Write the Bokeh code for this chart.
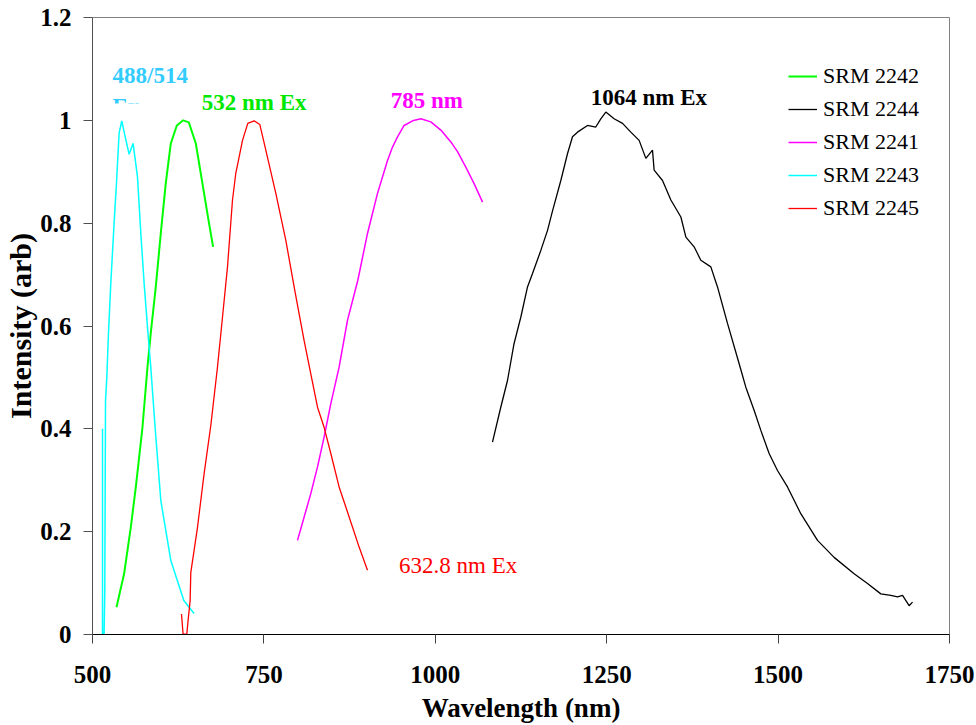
from bokeh.plotting import figure
from bokeh.models import Range1d, FixedTicker, Legend, LegendItem
from bokeh.core.properties import value
from bokeh.embed import file_html
from bokeh.resources import INLINE

SERIF = "Liberation Serif"

# ---------------- data (wavelength nm, intensity arb) ----------------
srm2243_x = [514.6, 514.6, 516.9, 517.9, 519.0, 520.9, 523.3, 526.7, 531.5, 535.0, 538.8,
             542.7, 546.5, 553.4, 559.2, 565.6, 570.5, 575.3, 580.2, 585.0, 591.3,
             599.6, 614.2, 633.2, 648.2]
srm2243_y = [0.40, 0.0, 0.0, 0.08, 0.455, 0.50, 0.586, 0.683, 0.80, 0.878, 0.975,
             0.999, 0.975, 0.934, 0.955, 0.89, 0.78, 0.683, 0.598, 0.52, 0.403,
             0.261, 0.144, 0.066, 0.041]

srm2242_x = [535.0, 546.1, 555.9, 563.2, 572.9, 580.2, 585.0, 592.3, 599.6, 606.9, 614.2,
             623.0, 632.2, 640.5, 650.7, 660.4, 669.2, 675.9]
srm2242_y = [0.053, 0.118, 0.209, 0.287, 0.403, 0.520, 0.586, 0.676, 0.780, 0.878, 0.955,
             0.990, 1.000, 0.996, 0.955, 0.877, 0.806, 0.754]

srm2245_x = [629.8, 632.1, 637.5, 639.4, 642.4, 643.4, 653.2, 662.8, 672.6, 682.3, 689.6,
             696.9, 704.2, 709.0, 718.8, 726.5, 735.7, 744.0, 752.8, 767.4, 781.9,
             795.5, 808.6, 818.4, 828.2, 837.8, 847.6, 859.7, 869.5, 879.2, 888.9, 901.1]
srm2245_y = [0.040, 0.001, 0.0, 0.027, 0.066, 0.121, 0.209, 0.313, 0.407, 0.520, 0.617,
             0.715, 0.845, 0.897, 0.961, 0.994, 0.999, 0.992, 0.942, 0.858, 0.767,
             0.666, 0.572, 0.507, 0.442, 0.403, 0.352, 0.287, 0.248, 0.209, 0.170, 0.125]

srm2241_x = [799.0, 808.6, 818.4, 828.2, 837.8, 847.6, 859.7, 871.9, 887.0, 901.1, 915.7,
             930.3, 937.6, 944.9, 954.5, 966.8, 978.9, 993.5, 1008.1, 1022.7, 1032.4,
             1044.5, 1056.6, 1068.9]
srm2241_y = [0.183, 0.228, 0.274, 0.326, 0.384, 0.449, 0.520, 0.611, 0.689, 0.780, 0.858,
             0.922, 0.948, 0.968, 0.990, 0.999, 1.003, 0.997, 0.981, 0.958, 0.939,
             0.909, 0.877, 0.841]

srm2244_x = [1083.4, 1095.5, 1105.3, 1114.9, 1124.7, 1134.5, 1141.8, 1153.9, 1163.7, 1171.0,
             1183.1, 1192.8, 1200.1, 1207.4, 1222.0, 1234.1, 1241.4, 1248.7, 1260.8, 1273.1,
             1285.2, 1297.3, 1307.1, 1316.8, 1319.2, 1331.4, 1343.6, 1358.2, 1365.5, 1377.5,
             1387.3, 1401.9, 1411.6, 1426.2, 1443.1, 1452.9, 1465.0, 1474.8, 1486.9, 1499.1,
             1513.7, 1533.1, 1557.5, 1581.7, 1610.9, 1630.4, 1649.8, 1664.4, 1674.2, 1681.5,
             1691.1, 1696.1]
srm2244_y = [0.374, 0.442, 0.494, 0.566, 0.617, 0.676, 0.702, 0.747, 0.786, 0.824,
             0.883, 0.935, 0.968, 0.977, 0.990, 0.987, 1.003, 1.016, 1.003, 0.994,
             0.977, 0.961, 0.926, 0.942, 0.903, 0.883, 0.845, 0.812, 0.773, 0.754,
             0.728, 0.715, 0.676, 0.605, 0.527, 0.481, 0.436, 0.397, 0.352, 0.319,
             0.287, 0.235, 0.183, 0.150, 0.118, 0.099, 0.079, 0.076, 0.073, 0.076,
             0.056, 0.063]

series_names = ["SRM 2242", "SRM 2244", "SRM 2241", "SRM 2243", "SRM 2245"]

x_ticks = [500, 750, 1000, 1250, 1500, 1750]
y_ticks = [0, 0.2, 0.4, 0.6, 0.8, 1.0, 1.2]
y_tick_labels = ["0", "0.2", "0.4", "0.6", "0.8", "1", "1.2"]

ann_text = ["488/514", "532 nm Ex", "785 nm", "1064 nm Ex"]
ann_x = [529.2, 659.4, 935.1, 1226.8]
ann_y = [1.087, 1.035, 1.039, 1.045]
ann_color = ["#33CCFF", "#00E800", "#FF00FF", "#000000"]

# ---------------- figure ----------------
p = figure(width=976, height=725, output_backend="svg", toolbar_location=None,
           x_range=Range1d(500, 1750), y_range=Range1d(0, 1.2),
           min_border_left=92, min_border_right=27, min_border_top=17, min_border_bottom=91)
p.grid.visible = False
p.outline_line_color = "#808080"
p.outline_line_width = 1
p.background_fill_color = "white"
p.border_fill_color = "white"

# clipped second line of the cyan label ("Ex")
p.text(x=[529.2], y=[1.027], text=["Ex"], text_font=value(SERIF), text_font_style="bold",
       text_font_size="23px", text_color="#33CCFF", text_baseline="alphabetic", text_align="left")
p.quad(left=[526.0], right=[570.0], bottom=[1.005], top=[1.0325], fill_color="white",
       line_color=None)

r2242 = p.line(srm2242_x, srm2242_y, line_color="#00FF00", line_width=2)
r2244 = p.line(srm2244_x, srm2244_y, line_color="#000000", line_width=1.3)
r2241 = p.line(srm2241_x, srm2241_y, line_color="#FF00FF", line_width=1.5)
r2243 = p.line(srm2243_x, srm2243_y, line_color="#00FFFF", line_width=1.5)
r2245 = p.line(srm2245_x, srm2245_y, line_color="#FF0000", line_width=1.3)

p.text(x=ann_x, y=ann_y, text=ann_text, text_color=ann_color, text_font=value(SERIF),
       text_font_style="bold", text_font_size="23px", text_baseline="alphabetic",
       text_align="left")
p.text(x=[947.2], y=[0.135], text=["632.8 nm Ex"], text_color="#FF0000",
       text_font=value(SERIF), text_font_size="23px", text_baseline="alphabetic",
       text_align="left")

# ---------------- axes ----------------
for ax in (p.xaxis[0], p.yaxis[0]):
    ax.major_label_text_font = SERIF
    ax.major_label_text_font_style = "bold"
    ax.major_label_text_font_size = "25px"
    ax.major_label_text_color = "black"
    ax.axis_label_text_font = SERIF
    ax.axis_label_text_font_style = "bold"
    ax.axis_label_text_color = "black"
    ax.minor_tick_line_color = None
    ax.major_tick_in = 0
    ax.major_tick_out = 9

p.xaxis.ticker = FixedTicker(ticks=x_ticks)
p.yaxis.ticker = FixedTicker(ticks=y_ticks)
p.yaxis.major_label_overrides = {t: l for t, l in zip(y_ticks, y_tick_labels)}

p.xaxis.axis_label = "Wavelength (nm)"
p.xaxis.axis_label_text_font_size = "27px"
p.xaxis.axis_label_standoff = 7
p.xaxis.major_label_standoff = 22
p.xaxis.axis_line_color = "black"
p.xaxis.major_tick_line_color = "#404040"

p.yaxis.axis_label = "Intensity (arb)"
p.yaxis.axis_label_text_font_size = "30px"
p.yaxis.axis_label_standoff = 0
p.yaxis.major_label_standoff = 12
p.yaxis.axis_line_color = "#505050"
p.yaxis.major_tick_line_color = "#505050"

# ---------------- legend ----------------
legend = Legend(items=[LegendItem(label=n, renderers=[r]) for n, r in
                       zip(series_names, [r2242, r2244, r2241, r2243, r2245])],
                location=(696, 413))
legend.label_text_font = SERIF
legend.label_text_font_size = "22px"
legend.label_text_color = "black"
legend.glyph_width = 29
legend.glyph_height = 20
legend.label_height = 20
legend.label_standoff = 6
legend.padding = 10
legend.spacing = 7
legend.border_line_color = None
legend.background_fill_alpha = 0
p.add_layout(legend)

open("out.html", "w").write(file_html(p, INLINE))
